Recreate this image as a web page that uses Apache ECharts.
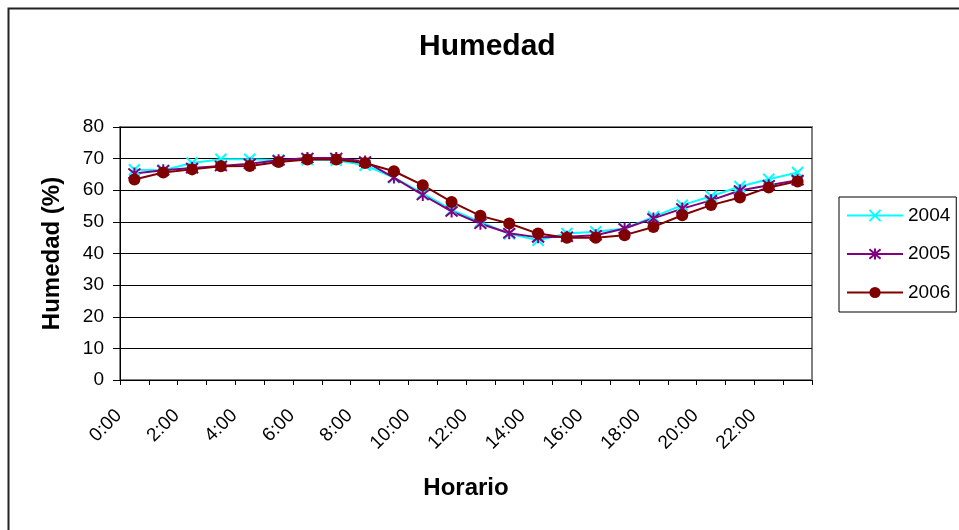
<!DOCTYPE html>
<html><head><meta charset="utf-8">
<script src="https://cdn.jsdelivr.net/npm/echarts@6/dist/echarts.min.js"></script>
<style>html,body{margin:0;padding:0;background:#fff}#c{width:959px;height:530px}</style>
</head><body><div id="c"></div>
<script>
const categories = ['0:00','1:00','2:00','3:00','4:00','5:00','6:00','7:00','8:00','9:00','10:00','11:00','12:00','13:00','14:00','15:00','16:00','17:00','18:00','19:00','20:00','21:00','22:00','23:00'];
const s2004 = [66.5,66.3,68.6,69.8,69.8,69.5,69.7,69.5,67.9,64.0,59.0,53.8,50.0,46.2,44.2,46.3,46.9,47.9,51.6,55.3,58.1,61.2,63.5,65.6];
const s2005 = [65.3,66.3,67.0,67.7,68.4,69.5,70.2,70.2,69.1,64.0,58.5,53.3,49.4,46.4,45.1,45.3,45.8,47.9,51.1,54.2,56.8,59.9,61.6,63.2];
const s2006 = [63.4,65.6,66.6,67.6,67.7,68.9,69.7,69.7,68.6,66.0,61.6,56.3,51.9,49.5,46.3,45.0,45.0,45.8,48.4,52.1,55.3,57.7,60.9,62.8];
const yTicks = [0,10,20,30,40,50,60,70,80];

const font = 'Liberation Sans, Arial, sans-serif';
const xSym = 'path://M0,0L10,10M10,0L0,10';
const starSym = 'path://M0,0L10,10M10,0L0,10M5,-1L5,11';

const chart = echarts.init(document.getElementById('c'));
chart.setOption({
  animation: false,
  backgroundColor: '#fff',
  title: {text: 'Humedad', left: 419, top: 32, padding: 0, textStyle: {fontFamily: font, fontSize: 30, fontWeight: 'bold', color: '#000'}},
  graphic: [{type: 'rect', left: 6, top: 6, shape: {width: 1000, height: 600}, style: {fill: 'none', stroke: '#222', lineWidth: 2}, silent: true, z: -1}],
  grid: {left: 120, top: 127, right: 147, bottom: 150, show: true, borderColor: '#808080', borderWidth: 2, backgroundColor: '#fff'},
  legend: {
    orient: 'vertical', left: 839, top: 197,
    padding: [9, 6, 10, 7], itemGap: 19.5, itemWidth: 56, itemHeight: 14,
    borderColor: '#000', borderWidth: 1,
    textStyle: {fontFamily: font, fontSize: 19, lineHeight: 18, color: '#000'},
    data: ['2004','2005','2006']
  },
  xAxis: {
    type: 'category', data: categories, boundaryGap: true,
    name: 'Horario', nameLocation: 'middle', nameGap: 96,
    nameTextStyle: {fontFamily: font, fontSize: 24, fontWeight: 'bold', color: '#000'},
    axisLine: {lineStyle: {color: '#000', width: 1}},
    axisTick: {show: true, interval: 0, length: 5, lineStyle: {color: '#000'}},
    axisLabel: {interval: 1, rotate: 45, margin: 17, padding: [0, 22, 0, 0], fontFamily: font, fontSize: 19, color: '#000'},
    splitLine: {show: false}
  },
  yAxis: {
    type: 'value', min: yTicks[0], max: yTicks[yTicks.length-1], interval: 10,
    name: 'Humedad (%)', nameLocation: 'middle', nameGap: 56,
    nameTextStyle: {fontFamily: font, fontSize: 24, fontWeight: 'bold', color: '#000'},
    axisLine: {show: true, lineStyle: {color: '#000', width: 1}},
    axisTick: {show: true, length: 7, lineStyle: {color: '#000'}},
    axisLabel: {margin: 16, fontFamily: font, fontSize: 19, color: '#000'},
    splitLine: {show: true, lineStyle: {color: '#000', width: 1}}
  },
  series: [
    {name: '2004', type: 'line', data: s2004, symbol: xSym, symbolSize: 11,
     lineStyle: {color: '#00FFFF', width: 2}, itemStyle: {color: '#00FFFF', borderColor: '#00FFFF', borderWidth: 2}},
    {name: '2005', type: 'line', data: s2005, symbol: starSym, symbolSize: 12,
     lineStyle: {color: '#800080', width: 2}, itemStyle: {color: '#800080', borderColor: '#800080', borderWidth: 2}},
    {name: '2006', type: 'line', data: s2006, symbol: 'circle', symbolSize: 12,
     lineStyle: {color: '#800000', width: 2}, itemStyle: {color: '#800000', borderColor: '#800000', borderWidth: 0}}
  ]
});
</script></body></html>
